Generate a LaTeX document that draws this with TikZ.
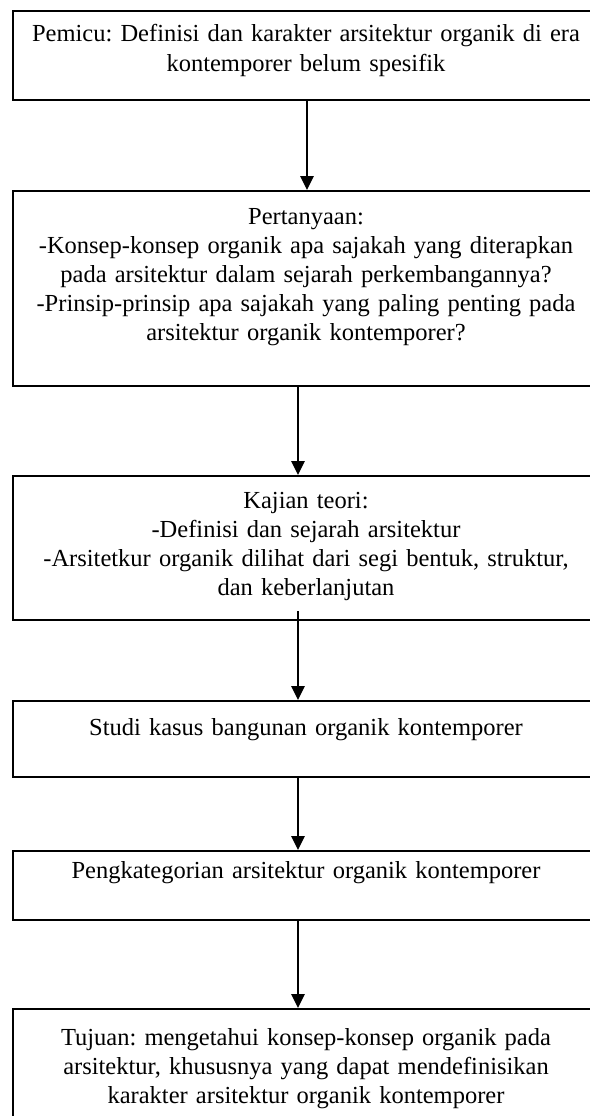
\documentclass[tikz,border=0pt]{standalone}
\usepackage{fontspec}
\setmainfont{Liberation Serif}
\usetikzlibrary{arrows.meta}
\frenchspacing
\begin{document}
\begin{tikzpicture}[x=1pt,y=-1pt,
  box/.style={draw=black,line width=1.7pt,rectangle,inner sep=0pt,anchor=north west},
  txt/.style={inner sep=0pt,text width=580pt,align=center,anchor=base,
    font=\fontsize{24.5pt}{29pt}\selectfont\frenchspacing},
  arr/.style={line width=1.4pt,-{Triangle[length=14pt,width=13.5pt]}}]
\useasboundingbox[fill=white] (0,0) rectangle (589,1116);
\node[box,minimum width=588pt,minimum height=89pt] (b1) at (12,10) {};
\node[box,minimum width=588pt,minimum height=195pt] (b2) at (12,190) {};
\node[box,minimum width=588pt,minimum height=144pt] (b3) at (12,475) {};
\node[box,minimum width=588pt,minimum height=76pt] (b4) at (12,700) {};
\node[box,minimum width=588pt,minimum height=69pt] (b5) at (12,850) {};
\node[box,minimum width=588pt,minimum height=140pt] (b6) at (12,1008) {};
\node[txt] (t1) at (306,42) {Pemicu: Definisi dan karakter arsitektur organik di era\\kontemporer belum spesifik};
\node[txt] (t2) at (306,224) {Pertanyaan:\\-Konsep-konsep organik apa sajakah yang diterapkan\\pada arsitektur dalam sejarah perkembangannya?\\-Prinsip-prinsip apa sajakah yang paling penting pada\\arsitektur organik kontemporer?};
\node[txt] (t3) at (306,508) {Kajian teori:\\-Definisi dan sejarah arsitektur\\-Arsitetkur organik dilihat dari segi bentuk, struktur,\\dan keberlanjutan};
\node[txt] (t4) at (306,735) {Studi kasus bangunan organik kontemporer};
\node[txt] (t5) at (306,878) {Pengkategorian arsitektur organik kontemporer};
\node[txt] (t6) at (306,1045) {Tujuan: mengetahui konsep-konsep organik pada\\arsitektur, khususnya yang dapat mendefinisikan\\karakter arsitektur organik kontemporer};
\coordinate (a1) at (307,99);
\coordinate (a2) at (298,385);
\coordinate (a3) at (298,611);
\coordinate (a4) at (298,776);
\coordinate (a5) at (298,919);
\draw[arr] (a1) -- (a1 |- b2.north);
\draw[arr] (a2) -- (a2 |- b3.north);
\draw[arr] (a3) -- (a3 |- b4.north);
\draw[arr] (a4) -- (a4 |- b5.north);
\draw[arr] (a5) -- (a5 |- b6.north);
\end{tikzpicture}
\end{document}
